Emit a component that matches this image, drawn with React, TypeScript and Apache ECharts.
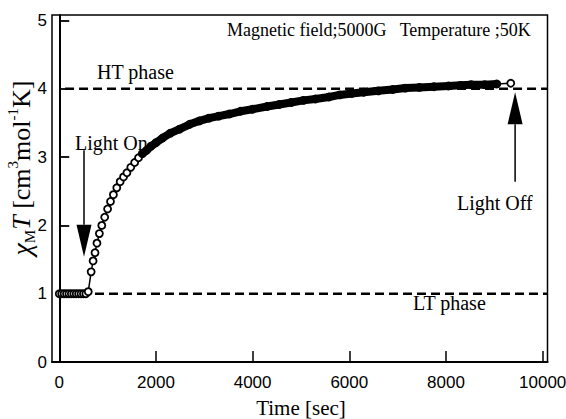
import React, { useEffect, useRef } from "react";
import * as echarts from "echarts";

// Time [sec]
const timeSec = [
  0, 50, 100, 150, 200, 250, 300, 350, 400, 450, 500, 550, 600,
  660, 700, 740, 780, 830, 880, 940, 1000, 1060, 1120, 1190, 1260, 1330,
  1400, 1480, 1560, 1640, 1720, 1810, 1900, 2000, 2140, 2300, 2490, 2700,
  2900, 3100, 3300, 3520, 3750, 4000, 4300, 4550, 4800, 5050, 5300, 5580,
  5800, 6050, 6300, 6600, 6900, 7160, 7450, 7750, 8050, 8300, 8520, 8800,
  9050, 9340,
];
// chi_M T [cm3 mol-1 K]
const chiMT = [
  1.0, 1.0, 1.0, 1.0, 1.0, 1.0, 1.0, 1.0, 1.0, 1.0, 1.0, 1.0, 1.03,
  1.32, 1.48, 1.6, 1.74, 1.88, 2.0, 2.12, 2.24, 2.35, 2.45, 2.55, 2.64, 2.71,
  2.77, 2.85, 2.92, 2.99, 3.05, 3.1, 3.16, 3.21, 3.28, 3.35, 3.41, 3.48,
  3.53, 3.57, 3.6, 3.63, 3.67, 3.7, 3.74, 3.77, 3.8, 3.83, 3.85, 3.88,
  3.91, 3.93, 3.95, 3.97, 3.99, 4.01, 4.02, 4.03, 4.04, 4.05, 4.06, 4.06,
  4.07, 4.08,
];
const xTicks = [0, 2000, 4000, 6000, 8000, 10000];
const yTicks = [0, 1, 2, 3, 4, 5];
const htPhaseValue = 4;
const ltPhaseValue = 1;
const htLineRange = [120, 10100];
const ltLineRange = [740, 10100];
const lightOnArrow = { t: 512, from: 3.1, to: 1.54 };
const lightOffArrow = { t: 9430, from: 2.64, to: 3.95 };
const bandRange = [1720, 9050];

const SERIF = "'Liberation Serif', 'Times New Roman', serif";
const SANS = "'Liberation Sans', Arial, sans-serif";

export default function App() {
  const ref = useRef<HTMLDivElement>(null);
  useEffect(() => {
    document.body.style.margin = "0";
    const chart = echarts.init(ref.current!, null, { renderer: "svg" });
    const points = timeSec.map((t, i) => [t, chiMT[i]]);
    const band = points.filter((p) => p[0] >= bandRange[0] && p[0] <= bandRange[1]);
    const dashed = {
      type: "line" as const,
      symbol: "none",
      silent: true,
      lineStyle: { color: "#000", width: 2.5, type: [9, 5] },
      z: 2,
    };
    chart.setOption({
      animation: false,
      backgroundColor: "#fff",
      grid: {
        left: 52,
        right: 18.5,
        top: 15,
        bottom: 57,
        outerBoundsMode: "none",
        containLabel: false,
        show: true,
        borderColor: "#000",
        borderWidth: 1.5,
      },
      xAxis: {
        type: "value",
        min: -150,
        max: 10100,
        axisLine: { lineStyle: { color: "#000", width: 2 } },
        axisTick: {
          inside: true,
          length: 11,
          customValues: xTicks,
          lineStyle: { color: "#000", width: 1.5 },
        },
        axisLabel: {
          customValues: xTicks,
          formatter: (v: number) => String(v),
          color: "#000",
          fontSize: 17,
          fontFamily: SANS,
          margin: 12,
        },
        splitLine: { show: false },
      },
      yAxis: {
        type: "value",
        min: 0,
        max: 5.08,
        axisLine: { lineStyle: { color: "#000", width: 2 } },
        axisTick: {
          inside: true,
          length: 10,
          customValues: yTicks,
          lineStyle: { color: "#000", width: 1.8 },
        },
        axisLabel: {
          customValues: yTicks,
          formatter: (v: number) => String(v),
          color: "#000",
          fontSize: 17,
          fontFamily: SANS,
          margin: 5,
        },
        splitLine: { show: false },
      },
      series: [
        {
          ...dashed,
          data: [
            [htLineRange[0], htPhaseValue],
            [htLineRange[1], htPhaseValue],
          ],
        },
        {
          ...dashed,
          data: [
            [ltLineRange[0], ltPhaseValue],
            [ltLineRange[1], ltPhaseValue],
          ],
        },
        {
          type: "line",
          data: points,
          symbol: "circle",
          symbolSize: 7,
          showSymbol: true,
          itemStyle: { color: "#fff", borderColor: "#000", borderWidth: 1.8 },
          lineStyle: { color: "#000", width: 1.5 },
          z: 3,
        },
        {
          type: "line",
          data: band,
          symbol: "none",
          lineStyle: { color: "#000", width: 8, cap: "round", join: "round" },
          z: 4,
        },
      ],
    });

    const arrow = (t: number, from: number, to: number) => {
      const s = chart.convertToPixel({ gridIndex: 0 }, [t, from]) as number[];
      const e = chart.convertToPixel({ gridIndex: 0 }, [t, to]) as number[];
      const dx = e[0] - s[0];
      const dy = e[1] - s[1];
      const len = Math.sqrt(dx * dx + dy * dy);
      const ux = dx / len;
      const uy = dy / len;
      const headLen = 32;
      const halfW = 7.5;
      const bx = e[0] - ux * headLen;
      const by = e[1] - uy * headLen;
      return [
        {
          type: "line",
          shape: { x1: s[0], y1: s[1], x2: bx, y2: by },
          style: { stroke: "#000", lineWidth: 1.5 },
          z: 10,
        },
        {
          type: "polygon",
          shape: {
            points: [
              [e[0], e[1]],
              [bx - uy * halfW, by + ux * halfW],
              [bx + uy * halfW, by - ux * halfW],
            ],
          },
          style: { fill: "#000" },
          z: 10,
        },
      ];
    };

    const txt = (text: string, x: number, y: number, size: number, align = "left") => ({
      type: "text",
      x,
      y,
      z: 11,
      style: {
        text,
        fill: "#000",
        fontFamily: SERIF,
        fontSize: size,
        fontWeight: "normal",
        align,
        verticalAlign: "middle",
      },
    });

    chart.setOption({
      graphic: [
        txt("Magnetic field;5000G   Temperature ;50K", 227, 30, 18),
        txt("HT phase", 97, 72, 20),
        txt("Light On", 75, 143, 20),
        txt("LT phase", 413, 303, 20),
        txt("Light Off", 457, 203, 20),
        txt("Time [sec]", 301, 408, 21, "center"),
        {
          type: "text",
          x: 21,
          y: 168,
          rotation: Math.PI / 2,
          z: 11,
          style: {
            text: "{c|χ}{s|M}{t|T} [cm{p|3}mol{p|-1}K]",
            fill: "#000",
            fontFamily: SERIF,
            fontSize: 26,
            align: "center",
            verticalAlign: "middle",
            rich: {
              c: { fontFamily: SERIF, fontSize: 28, fontStyle: "italic", lineHeight: 32, verticalAlign: "middle" },
              s: { fontFamily: SERIF, fontSize: 15, lineHeight: 32, verticalAlign: "bottom" },
              t: { fontFamily: SERIF, fontSize: 26, fontStyle: "italic", lineHeight: 32, verticalAlign: "middle" },
              p: { fontFamily: SERIF, fontSize: 15, lineHeight: 32, verticalAlign: "top" },
            },
          },
        },
        ...arrow(lightOnArrow.t, lightOnArrow.from, lightOnArrow.to),
        ...arrow(lightOffArrow.t, lightOffArrow.from, lightOffArrow.to),
      ],
    });
    return () => chart.dispose();
  }, []);
  return <div ref={ref} style={{ width: 566, height: 419 }} />;
}
